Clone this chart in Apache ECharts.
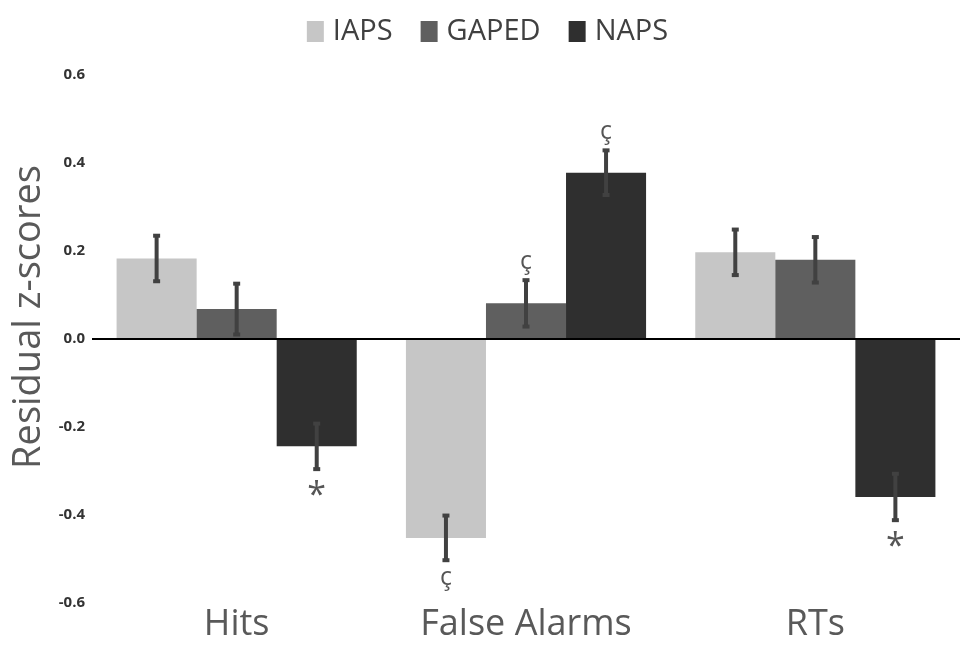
<!DOCTYPE html>
<html>
<head>
<meta charset="utf-8">
<script src="https://cdn.jsdelivr.net/npm/echarts@6/dist/echarts.min.js"></script>
<style>html,body{margin:0;padding:0;background:#fff}#c{width:975px;height:654px}</style>
</head>
<body>
<div id="c"></div>
<script>
const categories = ['Hits', 'False Alarms', 'RTs'];
const seriesNames = ['IAPS', 'GAPED', 'NAPS'];
const iaps = [0.183, -0.452, 0.197];
const gaped = [0.068, 0.081, 0.180];
const naps = [-0.244, 0.378, -0.359];
const iapsErr = [0.054, 0.053, 0.054];
const gapedErr = [0.060, 0.055, 0.054];
const napsErr = [0.054, 0.053, 0.055];
const iapsMark = ['', 'ç', ''];
const gapedMark = ['', 'ç', ''];
const napsMark = ['*', 'ç', '*'];
const yTicks = [-0.6, -0.4, -0.2, 0.0, 0.2, 0.4, 0.6];

const colors = ['#c6c6c6', '#5f5f5f', '#2f2f2f'];
const values = [iaps, gaped, naps];
const errs = [iapsErr, gapedErr, napsErr];
const marks = [iapsMark, gapedMark, napsMark];
const catGap = 0.17;

const errData = [];
for (let s = 0; s < 3; s++) {
  for (let c = 0; c < categories.length; c++) {
    errData.push([c, s, values[s][c], errs[s][c], marks[s][c]]);
  }
}

const chart = echarts.init(document.getElementById('c'));
const font = '"Open Sans", "Noto Sans", sans-serif';

const barSeries = seriesNames.map((n, i) => ({
  name: n,
  type: 'bar',
  data: values[i],
  barGap: '0%',
  barCategoryGap: (catGap * 100) + '%',
  itemStyle: { color: colors[i] },
  emphasis: { disabled: true },
  z: 2
}));

barSeries[0].markLine = {
  silent: true,
  symbol: 'none',
  label: { show: false },
  lineStyle: { color: '#000', width: 2, type: 'solid' },
  data: [{ yAxis: 0 }],
  z: 5
};

const errSeries = {
  type: 'custom',
  name: 'err',
  data: errData,
  z: 10,
  renderItem: function (params, api) {
    const c = api.value(0), s = api.value(1), v = api.value(2), e = api.value(3);
    const mark = errData[params.dataIndex][4];
    const bandW = api.size([1, 0])[0];
    const barW = bandW * (1 - catGap) / 3;
    const center = api.coord([c, v]);
    const x = center[0] + (s - 1) * barW;
    const yTop = api.coord([c, v + e])[1];
    const yBot = api.coord([c, v - e])[1];
    const stroke = '#414141';
    const children = [
      { type: 'rect', shape: { x: x - 2, y: yTop, width: 4, height: yBot - yTop }, style: { fill: stroke } },
      { type: 'rect', shape: { x: x - 3.5, y: yTop - 1, width: 7, height: 4 }, style: { fill: stroke } },
      { type: 'rect', shape: { x: x - 3.5, y: yBot - 3, width: 7, height: 4 }, style: { fill: stroke } }
    ];
    if (mark) {
      const isStar = mark === '*';
      const ty = v >= 0 ? yTop - 17 : yBot + (isStar ? 26 : 17);
      children.push({
        type: 'text',
        style: {
          text: mark, x: x, y: ty,
          align: 'center', verticalAlign: 'middle',
          fill: '#555', font: (isStar ? '34px ' : '25px ') + font
        }
      });
    }
    return { type: 'group', children: children };
  }
};

chart.setOption({
  animation: false,
  color: colors,
  legend: {
    data: seriesNames,
    top: 12,
    left: 'center',
    itemWidth: 17,
    itemHeight: 21,
    itemGap: 28,
    icon: 'rect',
    textStyle: { fontSize: 29, color: '#404040', fontFamily: font, padding: [0, 0, 0, 4] }
  },
  grid: { left: 92, right: 15, top: 75, bottom: 51, containLabel: false },
  xAxis: {
    type: 'category',
    data: categories,
    position: 'bottom',
    axisLine: { show: false, onZero: false },
    axisTick: { show: false },
    axisLabel: { fontSize: 36, color: '#595959', fontFamily: font, margin: 4 }
  },
  yAxis: {
    type: 'value',
    min: -0.6, max: 0.6, interval: 0.2,
    name: 'Residual z-scores',
    nameLocation: 'middle',
    nameGap: 42,
    nameTextStyle: { fontSize: 38, color: '#595959', fontFamily: font, padding: [0, 0, 0, 44] },
    axisLine: { show: false },
    axisTick: { show: false },
    splitLine: { show: false },
    axisLabel: {
      fontSize: 15, fontWeight: 'bold', color: '#333', fontFamily: font, margin: 7,
      formatter: function (v) { return (Math.round(v * 10) / 10).toFixed(1); }
    }
  },
  series: barSeries.concat([errSeries])
});
</script>
</body>
</html>
